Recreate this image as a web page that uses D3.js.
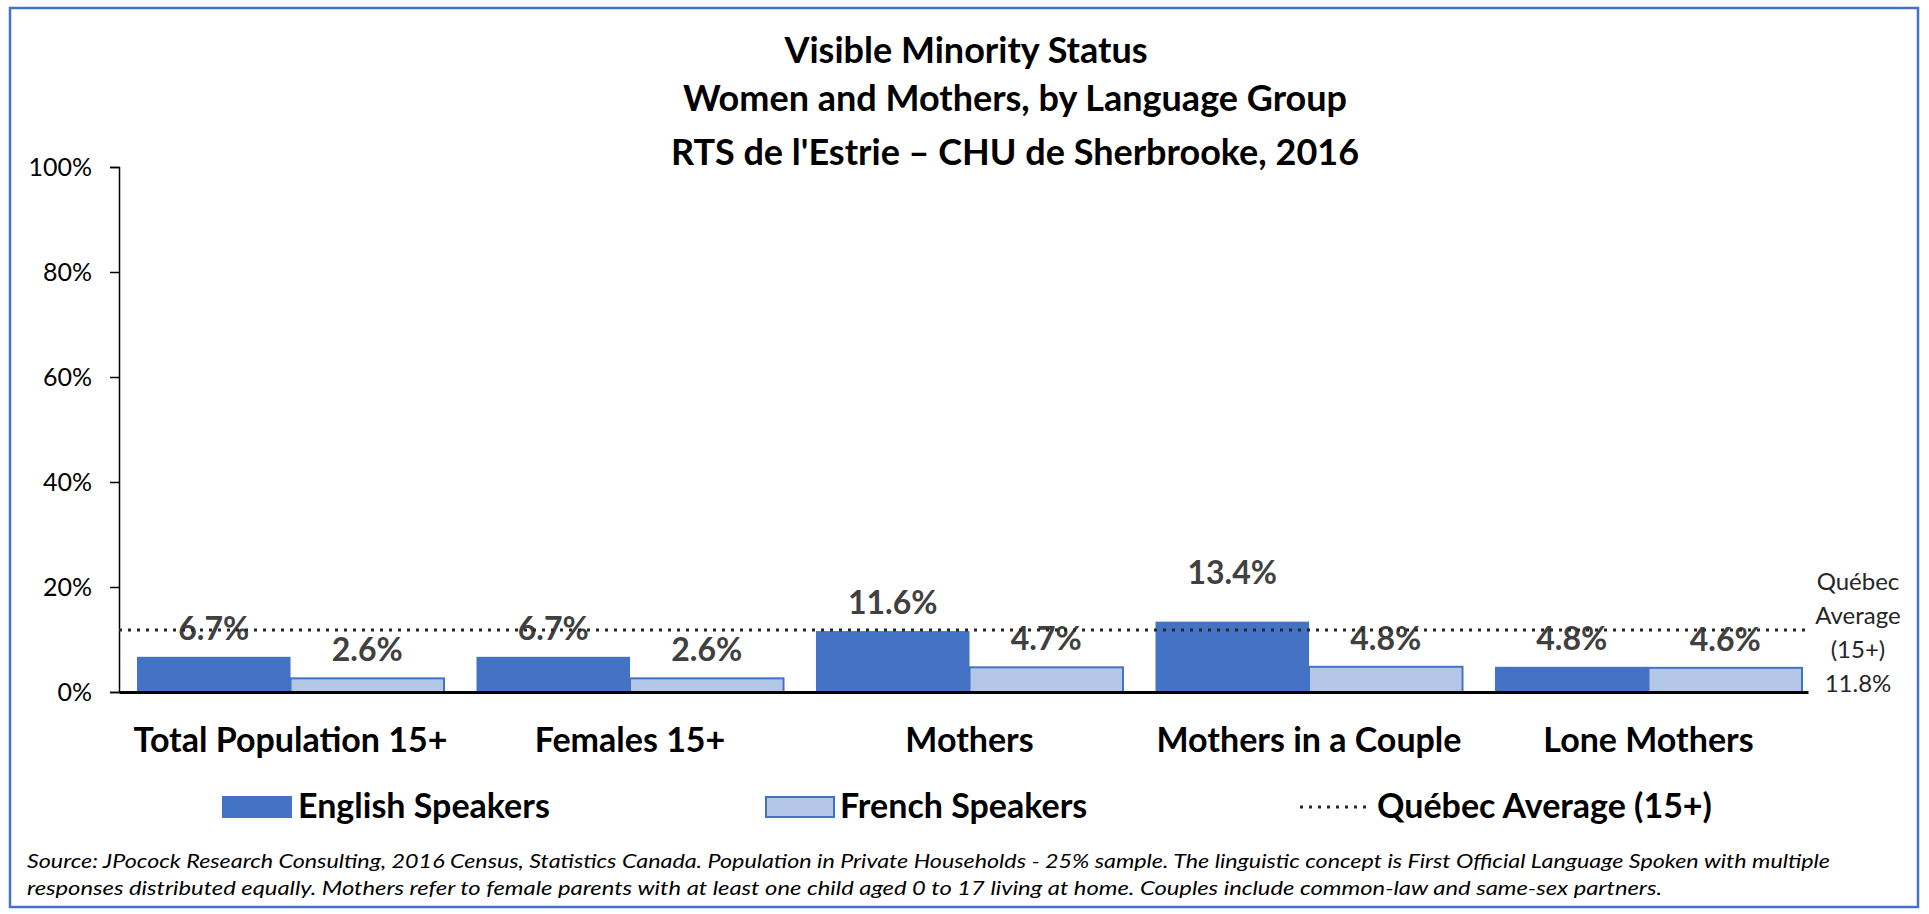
<!DOCTYPE html>
<html>
<head>
<meta charset="utf-8">
<script src="https://cdn.jsdelivr.net/npm/d3@7"></script>
<style>
	body { margin: 0; background: #fff; }
	svg { display: block; font-family: Lato, "Open Sans", sans-serif; }
</style>
</head>
<body>
<div id="chart"></div>
<script>
(function() {

// data
const categories = ["Total Population 15+", "Females 15+", "Mothers", "Mothers in a Couple", "Lone Mothers"];
const seriesNames = ["English Speakers", "French Speakers"];
const english = [0.067, 0.067, 0.116, 0.134, 0.048];
const french = [0.026, 0.026, 0.047, 0.048, 0.046];
const quebecAvg = 0.118;
const yTicks = [0, 0.2, 0.4, 0.6, 0.8, 1.0];
const titleLines = ["Visible Minority Status", "Women and Mothers, by Language Group", "RTS de l'Estrie \u2013 CHU de Sherbrooke, 2016"];
const avgLabel = ["Qu\u00e9bec", "Average", "(15+)", "11.8%"];
const sourceLines = [
	"Source: JPocock Research Consulting, 2016 Census, Statistics Canada. Population in Private Households - 25% sample. The linguistic concept is First Official Language Spoken with multiple",
	"responses distributed equally. Mothers refer to female parents with at least one child aged 0 to 17 living at home. Couples include common-law and same-sex partners."
];

const width = 1929, height = 914;
const blue = "#4472C4", lightBlue = "#B4C7E7";

const svg = d3.select("#chart").append("svg")
	.attr("width", width)
	.attr("height", height);

// frame
svg.append("rect")
	.attr("x", 10).attr("y", 8)
	.attr("width", 1908).attr("height", 899)
	.attr("fill", "#fff")
	.attr("stroke", blue)
	.attr("stroke-width", 2.5);

// title (first line sits a bit left of the others, as in the original)
const titleY = [63, 111, 165];
svg.append("g").selectAll("text")
	.data(titleLines)
	.enter().append("text")
	.attr("x", (d, i) => i === 0 ? 966 : 1015)
	.attr("y", (d, i) => titleY[i])
	.attr("text-anchor", "middle")
	.attr("font-size", 36)
	.attr("font-weight", "bold")
	.attr("fill", "#000")
	.text(d => d);

const x0 = d3.scaleBand()
	.domain(categories)
	.range([119, 1808])
	.paddingInner(0.0957)
	.paddingOuter(0.0354)
	.align(0.75);

const x1 = d3.scaleBand()
	.domain(seriesNames)
	.range([0, x0.bandwidth()]);

const y = d3.scaleLinear()
	.domain([0, 1])
	.range([692, 167]);

// y axis
const yAxis = svg.append("g")
	.attr("transform", "translate(119,0)")
	.call(d3.axisLeft(y).tickValues(yTicks).tickFormat(d3.format(".0%")).tickSizeOuter(0).tickSize(9).tickPadding(18));
yAxis.select(".domain").attr("stroke", "#000").attr("stroke-width", 1.5);
yAxis.selectAll(".tick line").attr("stroke", "#000").attr("stroke-width", 1.5);
yAxis.selectAll(".tick text")
	.attr("font-size", 25)
	.attr("font-family", "Lato, sans-serif")
	.attr("fill", "#000");

// bars
const rows = categories.map((c, i) => ({ cat: c, values: [english[i], french[i]] }));

const group = svg.append("g").selectAll("g")
	.data(rows)
	.enter().append("g")
	.attr("transform", d => "translate(" + x0(d.cat) + ",0)");

group.selectAll("rect")
	.data(d => d.values.map((v, j) => ({ name: seriesNames[j], value: v })))
	.enter().append("rect")
	.attr("x", d => x1(d.name))
	.attr("y", d => y(d.value))
	.attr("width", x1.bandwidth())
	.attr("height", d => y(0) - y(d.value))
	.attr("fill", d => d.name === seriesNames[0] ? blue : lightBlue)
	.attr("stroke", blue)
	.attr("stroke-width", d => d.name === seriesNames[0] ? 0 : 2);

// x axis
const xAxis = svg.append("g")
	.attr("transform", "translate(0," + y(0) + ")")
	.call(d3.axisBottom(x0).tickSize(0).tickPadding(0));
xAxis.select(".domain").attr("stroke", "#000").attr("stroke-width", 3);
xAxis.selectAll(".tick text")
	.attr("y", 60)
	.attr("dy", 0)
	.attr("font-size", 34)
	.attr("font-weight", "bold")
	.attr("font-family", "Lato, sans-serif")
	.attr("fill", "#000");

// average line
svg.append("line")
	.attr("x1", x0.range()[0]).attr("x2", x0.range()[1])
	.attr("y1", y(quebecAvg)).attr("y2", y(quebecAvg))
	.attr("stroke", "#262626")
	.attr("stroke-width", 3)
	.attr("stroke-dasharray", "3,6");

// value labels (the tallest one was nudged up in the original)
group.selectAll("text.val")
	.data(d => d.values.map((v, j) => ({ name: seriesNames[j], value: v })))
	.enter().append("text")
	.attr("class", "val")
	.attr("x", d => x1(d.name) + x1.bandwidth() / 2)
	.attr("y", d => y(d.value) - (d.value > quebecAvg ? 38 : 17))
	.attr("text-anchor", "middle")
	.attr("font-size", 32)
	.attr("font-weight", "bold")
	.attr("fill", "#404040")
	.attr("stroke", "rgba(255,255,255,0.75)")
	.attr("stroke-width", 5)
	.attr("paint-order", "stroke")
	.text(d => d3.format(".1%")(d.value));

// average annotation
svg.append("g").selectAll("text")
	.data(avgLabel)
	.enter().append("text")
	.attr("x", 1858)
	.attr("y", (d, i) => 590 + i * 34)
	.attr("text-anchor", "middle")
	.attr("font-size", 24)
	.attr("fill", "#262626")
	.text(d => d);

// legend
const legendY = 807;
const legend = svg.append("g").attr("font-size", 34).attr("font-weight", "bold");
legend.append("rect")
	.attr("x", 222).attr("y", legendY - 11).attr("width", 70).attr("height", 22)
	.attr("fill", blue);
legend.append("text")
	.attr("x", 298).attr("y", legendY + 11)
	.text(seriesNames[0]);
legend.append("rect")
	.attr("x", 766).attr("y", legendY - 10).attr("width", 68).attr("height", 20)
	.attr("fill", lightBlue).attr("stroke", blue).attr("stroke-width", 2);
legend.append("text")
	.attr("x", 840).attr("y", legendY + 11)
	.text(seriesNames[1]);
legend.append("line")
	.attr("x1", 1300).attr("x2", 1366)
	.attr("y1", legendY).attr("y2", legendY)
	.attr("stroke", "#262626").attr("stroke-width", 3)
	.attr("stroke-dasharray", "3,6");
legend.append("text")
	.attr("x", 1377).attr("y", legendY + 11)
	.text("Qu\u00e9bec Average (15+)");

// source
svg.append("g").selectAll("text")
	.data(sourceLines)
	.enter().append("text")
	.attr("x", 27)
	.attr("y", (d, i) => 868 + i * 27)
	.attr("font-size", 20)
	.attr("font-style", "italic")
	.attr("fill", "#000")
	.attr("textLength", (d, i) => i === 0 ? 1803 : 1635)
	.attr("lengthAdjust", "spacingAndGlyphs")
	.text(d => d);

})();
</script>
</body>
</html>
